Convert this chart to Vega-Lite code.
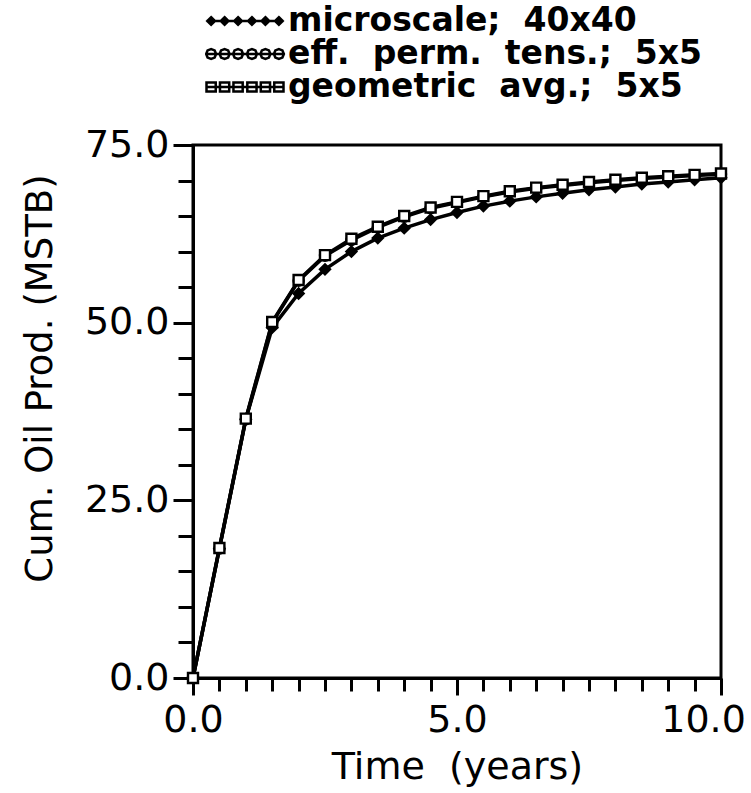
{
  "$schema": "https://vega.github.io/schema/vega-lite/v6.json",
  "width": 528,
  "height": 533,
  "autosize": {"type": "none"},
  "padding": {"left": 193, "top": 145, "right": 30, "bottom": 115},
  "background": "white",
  "config": {
    "view": {"stroke": "black", "strokeWidth": 3},
    "font": "DejaVu Sans",
    "axis": {
      "grid": false,
      "domainColor": "black",
      "domainWidth": 3,
      "tickColor": "black",
      "tickWidth": 3,
      "labelColor": "black",
      "labelFont": "DejaVu Sans",
      "labelFontSize": 38,
      "titleColor": "black",
      "titleFont": "DejaVu Sans",
      "titleFontSize": 38,
      "titleFontWeight": "normal",
      "labelOverlap": false,
      "labelFlush": false
    },
    "legend": {
      "labelFont": "DejaVu Sans",
      "labelColor": "black"
    }
  },
  "data": {
    "values": [
      {"t": 0, "cum": 0, "series": "microscale; 40x40"},
      {"t": 0.5, "cum": 18.2, "series": "microscale; 40x40"},
      {"t": 1.0, "cum": 36.4, "series": "microscale; 40x40"},
      {"t": 1.5, "cum": 49.3, "series": "microscale; 40x40"},
      {"t": 2.0, "cum": 54.1, "series": "microscale; 40x40"},
      {"t": 2.5, "cum": 57.5, "series": "microscale; 40x40"},
      {"t": 3.0, "cum": 60.0, "series": "microscale; 40x40"},
      {"t": 3.5, "cum": 61.9, "series": "microscale; 40x40"},
      {"t": 4.0, "cum": 63.3, "series": "microscale; 40x40"},
      {"t": 4.5, "cum": 64.5, "series": "microscale; 40x40"},
      {"t": 5.0, "cum": 65.5, "series": "microscale; 40x40"},
      {"t": 5.5, "cum": 66.4, "series": "microscale; 40x40"},
      {"t": 6.0, "cum": 67.1, "series": "microscale; 40x40"},
      {"t": 6.5, "cum": 67.7, "series": "microscale; 40x40"},
      {"t": 7.0, "cum": 68.2, "series": "microscale; 40x40"},
      {"t": 7.5, "cum": 68.7, "series": "microscale; 40x40"},
      {"t": 8.0, "cum": 69.1, "series": "microscale; 40x40"},
      {"t": 8.5, "cum": 69.5, "series": "microscale; 40x40"},
      {"t": 9.0, "cum": 69.8, "series": "microscale; 40x40"},
      {"t": 9.5, "cum": 70.1, "series": "microscale; 40x40"},
      {"t": 10.0, "cum": 70.4, "series": "microscale; 40x40"},
      {"t": 0, "cum": 0, "series": "eff. perm. tens.; 5x5"},
      {"t": 0.5, "cum": 18.2, "series": "eff. perm. tens.; 5x5"},
      {"t": 1.0, "cum": 36.4, "series": "eff. perm. tens.; 5x5"},
      {"t": 1.5, "cum": 50.0, "series": "eff. perm. tens.; 5x5"},
      {"t": 2.0, "cum": 55.9, "series": "eff. perm. tens.; 5x5"},
      {"t": 2.5, "cum": 59.4, "series": "eff. perm. tens.; 5x5"},
      {"t": 3.0, "cum": 61.6, "series": "eff. perm. tens.; 5x5"},
      {"t": 3.5, "cum": 63.4, "series": "eff. perm. tens.; 5x5"},
      {"t": 4.0, "cum": 64.9, "series": "eff. perm. tens.; 5x5"},
      {"t": 4.5, "cum": 66.1, "series": "eff. perm. tens.; 5x5"},
      {"t": 5.0, "cum": 66.9, "series": "eff. perm. tens.; 5x5"},
      {"t": 5.5, "cum": 67.7, "series": "eff. perm. tens.; 5x5"},
      {"t": 6.0, "cum": 68.4, "series": "eff. perm. tens.; 5x5"},
      {"t": 6.5, "cum": 68.9, "series": "eff. perm. tens.; 5x5"},
      {"t": 7.0, "cum": 69.3, "series": "eff. perm. tens.; 5x5"},
      {"t": 7.5, "cum": 69.7, "series": "eff. perm. tens.; 5x5"},
      {"t": 8.0, "cum": 70.0, "series": "eff. perm. tens.; 5x5"},
      {"t": 8.5, "cum": 70.3, "series": "eff. perm. tens.; 5x5"},
      {"t": 9.0, "cum": 70.5, "series": "eff. perm. tens.; 5x5"},
      {"t": 9.5, "cum": 70.7, "series": "eff. perm. tens.; 5x5"},
      {"t": 10.0, "cum": 70.9, "series": "eff. perm. tens.; 5x5"},
      {"t": 0, "cum": 0, "series": "geometric avg.; 5x5"},
      {"t": 0.5, "cum": 18.3, "series": "geometric avg.; 5x5"},
      {"t": 1.0, "cum": 36.5, "series": "geometric avg.; 5x5"},
      {"t": 1.5, "cum": 50.1, "series": "geometric avg.; 5x5"},
      {"t": 2.0, "cum": 56.0, "series": "geometric avg.; 5x5"},
      {"t": 2.5, "cum": 59.5, "series": "geometric avg.; 5x5"},
      {"t": 3.0, "cum": 61.8, "series": "geometric avg.; 5x5"},
      {"t": 3.5, "cum": 63.5, "series": "geometric avg.; 5x5"},
      {"t": 4.0, "cum": 65.0, "series": "geometric avg.; 5x5"},
      {"t": 4.5, "cum": 66.2, "series": "geometric avg.; 5x5"},
      {"t": 5.0, "cum": 67.0, "series": "geometric avg.; 5x5"},
      {"t": 5.5, "cum": 67.8, "series": "geometric avg.; 5x5"},
      {"t": 6.0, "cum": 68.5, "series": "geometric avg.; 5x5"},
      {"t": 6.5, "cum": 69.0, "series": "geometric avg.; 5x5"},
      {"t": 7.0, "cum": 69.4, "series": "geometric avg.; 5x5"},
      {"t": 7.5, "cum": 69.8, "series": "geometric avg.; 5x5"},
      {"t": 8.0, "cum": 70.1, "series": "geometric avg.; 5x5"},
      {"t": 8.5, "cum": 70.4, "series": "geometric avg.; 5x5"},
      {"t": 9.0, "cum": 70.6, "series": "geometric avg.; 5x5"},
      {"t": 9.5, "cum": 70.8, "series": "geometric avg.; 5x5"},
      {"t": 10.0, "cum": 71.0, "series": "geometric avg.; 5x5"}
    ]
  },
  "encoding": {
    "x": {
      "field": "t",
      "type": "quantitative",
      "scale": {"domain": [0, 10], "nice": false, "zero": false},
      "axis": {
        "values": [0, 0.5, 1, 1.5, 2, 2.5, 3, 3.5, 4, 4.5, 5, 5.5, 6, 6.5, 7, 7.5, 8, 8.5, 9, 9.5, 10],
        "labelExpr": "datum.value % 5 === 0 ? format(datum.value, '.1f') : ''",
        "tickSize": {"condition": {"test": "datum.value % 5 === 0", "value": 17}, "value": 13},
        "labelOffset": {"condition": {"test": "datum.value === 10", "value": -18}, "value": 0},
        "labelPadding": 6,
        "title": "Time\u00a0\u00a0(years)",
        "titlePadding": 9
      }
    },
    "y": {
      "field": "cum",
      "type": "quantitative",
      "scale": {"domain": [0, 75], "nice": false},
      "axis": {
        "values": [0, 5, 10, 15, 20, 25, 30, 35, 40, 45, 50, 55, 60, 65, 70, 75],
        "labelExpr": "datum.value % 25 === 0 ? format(datum.value, '.1f') : ''",
        "tickSize": {"condition": {"test": "datum.value % 25 === 0", "value": 20}, "value": 15},
        "labelPadding": 4,
        "title": "Cum. Oil Prod. (MSTB)",
        "titleFontSize": 37,
        "titleAngle": -90,
        "titleAlign": "center",
        "titleBaseline": "middle",
        "titleX": -153,
        "titleY": 233
      }
    }
  },
  "layer": [
    {
      "mark": {"type": "line", "color": "black", "strokeWidth": 3.5},
      "encoding": {"detail": {"field": "series"}}
    },
    {
      "mark": {"type": "point", "stroke": "black", "strokeWidth": 2.4, "opacity": 1},
      "encoding": {
        "shape": {
          "field": "series",
          "type": "nominal",
          "scale": {
            "domain": ["microscale; 40x40", "eff. perm. tens.; 5x5", "geometric avg.; 5x5"],
            "range": ["diamond", "circle", "square"]
          },
          "legend": null
        },
        "fill": {
          "condition": {"test": "datum.series === 'microscale; 40x40'", "value": "black"},
          "value": "white"
        },
        "size": {"value": 100}
      }
    },
    {
      "mark": {"type": "point", "filled": false, "size": 0, "stroke": "black", "strokeWidth": 2.5},
      "encoding": {
        "shape": {
          "field": "series",
          "type": "nominal",
          "scale": {
            "domain": ["microscale; 40x40", "eff. perm. tens.; 5x5", "geometric avg.; 5x5"],
            "range": [
              "M-1,0L1,0M-0.88,-0.1L-0.78,0L-0.88,0.1L-0.98,0ZM-0.53,-0.1L-0.43,0L-0.53,0.1L-0.63,0ZM-0.18,-0.1L-0.08,0L-0.18,0.1L-0.28,0ZM0.18,-0.1L0.28,0L0.18,0.1L0.08,0ZM0.53,-0.1L0.63,0L0.53,0.1L0.43,0ZM0.88,-0.1L0.98,0L0.88,0.1L0.78,0Z",
              "M-1,0L1,0M-0.75,0L-0.788,0.092L-0.88,0.13L-0.972,0.092L-1.01,0L-0.972,-0.092L-0.88,-0.13L-0.788,-0.092ZM-0.4,0L-0.438,0.092L-0.53,0.13L-0.622,0.092L-0.66,0L-0.622,-0.092L-0.53,-0.13L-0.438,-0.092ZM-0.05,0L-0.088,0.092L-0.18,0.13L-0.272,0.092L-0.31,0L-0.272,-0.092L-0.18,-0.13L-0.088,-0.092ZM0.31,0L0.272,0.092L0.18,0.13L0.088,0.092L0.05,0L0.088,-0.092L0.18,-0.13L0.272,-0.092ZM0.66,0L0.622,0.092L0.53,0.13L0.438,0.092L0.4,0L0.438,-0.092L0.53,-0.13L0.622,-0.092ZM1.01,0L0.972,0.092L0.88,0.13L0.788,0.092L0.75,0L0.788,-0.092L0.88,-0.13L0.972,-0.092Z",
              "M-1,0L1,0M-1,-0.12L-0.76,-0.12L-0.76,0.12L-1,0.12ZM-0.65,-0.12L-0.41,-0.12L-0.41,0.12L-0.65,0.12ZM-0.3,-0.12L-0.06,-0.12L-0.06,0.12L-0.3,0.12ZM0.06,-0.12L0.3,-0.12L0.3,0.12L0.06,0.12ZM0.41,-0.12L0.65,-0.12L0.65,0.12L0.41,0.12ZM0.76,-0.12L1,-0.12L1,0.12L0.76,0.12Z"
            ]
          },
          "legend": {
            "orient": "none",
            "legendX": 12,
            "legendY": -137,
            "title": null,
            "symbolSize": 5929,
            "symbolStrokeWidth": 2.5,
            "symbolStrokeColor": "black",
            "symbolOpacity": 1,
            "labelFontSize": 33,
            "labelFontWeight": "bold",
            "labelOffset": 3,
            "labelLimit": 0,
            "clipHeight": 26,
            "rowPadding": 0,
            "labelExpr": "join(split(datum.label, ' '), '\u00a0\u00a0')",
            "encode": {
              "symbols": {
                "update": {
                  "stroke": {"value": "black"},
                  "strokeWidth": {"value": 2.5},
                  "strokeOpacity": {"value": 1}
                }
              }
            }
          }
        },
        "fill": {
          "field": "series",
          "type": "nominal",
          "scale": {
            "domain": ["microscale; 40x40", "eff. perm. tens.; 5x5", "geometric avg.; 5x5"],
            "range": ["black", "white", "white"]
          },
          "legend": {
            "orient": "none",
            "legendX": 12,
            "legendY": -137,
            "title": null,
            "symbolSize": 5929,
            "symbolStrokeWidth": 2.5,
            "symbolStrokeColor": "black",
            "symbolOpacity": 1,
            "labelFontSize": 33,
            "labelFontWeight": "bold",
            "labelOffset": 3,
            "labelLimit": 0,
            "clipHeight": 26,
            "rowPadding": 0,
            "labelExpr": "join(split(datum.label, ' '), '\u00a0\u00a0')",
            "encode": {
              "symbols": {
                "update": {
                  "stroke": {"value": "black"},
                  "strokeWidth": {"value": 2.5},
                  "strokeOpacity": {"value": 1}
                }
              }
            }
          }
        }
      }
    }
  ],
  "resolve": {"scale": {"shape": "independent", "fill": "independent"}}
}
